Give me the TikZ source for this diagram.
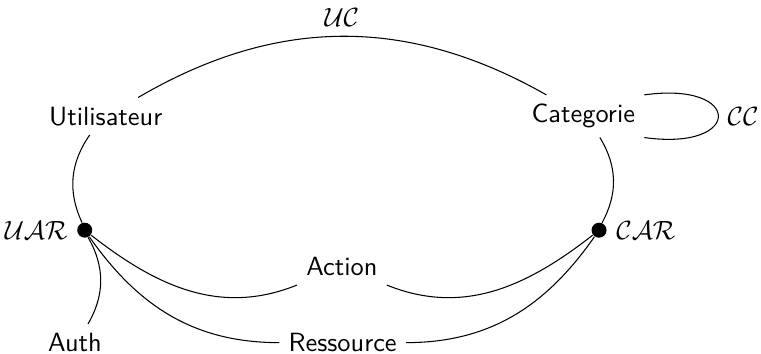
\documentclass[tikz,border=0pt]{standalone}
\usepackage{amsmath, amssymb}
\usepackage{tikz}
\usetikzlibrary{calc}
\tikzset{
    entity/.style={font=\sffamily},
    assoc/.style={circle, fill=black, inner sep=0pt, minimum size=2mm},
    link/.style={thin}
}

\begin{document}
\begin{tikzpicture}
    \useasboundingbox (0,0) rectangle (10.15,4.72);
    \node[entity] (User) at (1.41,3.17) {Utilisateur};
    \node[entity] (Cat) at (7.78,3.17) {Categorie};
    \node[assoc, label=left:$\mathcal{UAR}$] (UAR) at (1.13,1.65) {};
    \node[assoc, label=right:$\mathcal{CAR}$] (CAR) at (7.99,1.65) {};
    \node[entity] (Act) at (4.56,1.16) {Action};
    \node[entity] (Res) at (4.57,0.15) {Ressource};
    \node[entity] (Auth) at (1.00,0.15) {Auth};

    \draw[link] (User) to[bend left=30] node[above] {$\mathcal{UC}$} (Cat);
    \draw[link] (Cat.north east) to[out=8, in=-8, looseness=6] node[right] {$\mathcal{CC}$} (Cat.south east);
    \draw[link] (User) to[bend right=30] (UAR);
    \draw[link] (Cat) to[bend left=30] (CAR);
    \draw[link] (UAR) to[out=-38, in=202] (Act);
    \draw[link] (Act) to[out=-22, in=-142] (CAR);
    \draw[link] (UAR) to[out=-55, in=180] (Res);
    \draw[link] (Res) to[out=0, in=-125] (CAR);
    \draw[link] (UAR) to[bend left=30] (Auth);
\end{tikzpicture}
\end{document}
